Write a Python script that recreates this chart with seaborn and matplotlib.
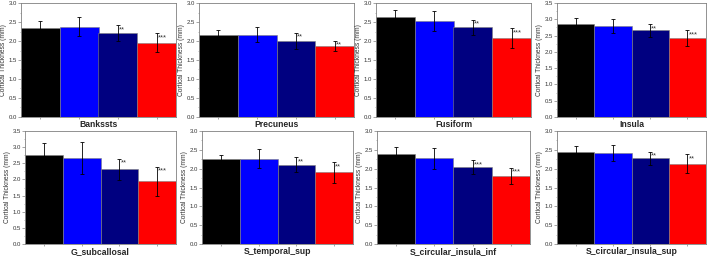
import pandas as pd
import matplotlib.pyplot as plt
import seaborn as sns
from matplotlib.ticker import MultipleLocator

regions = ['Bankssts', 'Precuneus', 'Fusiform', 'Insula',
           'G_subcallosal', 'S_temporal_sup', 'S_circular_insula_inf', 'S_circular_insula_sup']
groups = ['G1', 'G2', 'G3', 'G4']
colores = ['#000000', '#0000ff', '#000080', '#ff0000']

medias = [
    [2.35, 2.37, 2.21, 1.96],
    [2.17, 2.17, 2.01, 1.87],
    [2.63, 2.52, 2.36, 2.07],
    [2.86, 2.79, 2.66, 2.43],
    [2.75, 2.66, 2.31, 1.94],
    [2.26, 2.26, 2.10, 1.90],
    [2.39, 2.27, 2.04, 1.81],
    [2.44, 2.42, 2.27, 2.13],
]
errores = [
    [0.17, 0.25, 0.21, 0.24],
    [0.13, 0.20, 0.21, 0.14],
    [0.18, 0.26, 0.20, 0.26],
    [0.17, 0.21, 0.19, 0.24],
    [0.37, 0.50, 0.33, 0.45],
    [0.09, 0.25, 0.20, 0.28],
    [0.19, 0.27, 0.18, 0.22],
    [0.15, 0.21, 0.18, 0.25],
]
estrellas = [
    ['', '', '**', '***'],
    ['', '', '**', '**'],
    ['', '', '**', '***'],
    ['', '', '**', '***'],
    ['', '', '**', '***'],
    ['', '', '**', '**'],
    ['', '', '***', '***'],
    ['', '', '**', '**'],
]
ylims = [3.0, 3.0, 3.0, 3.5, 3.5, 3.0, 3.0, 3.0]

# posiciones de los paneles en pixeles (izq, arriba, ancho, alto)
cajas = [
    (21, 3, 155, 114), (199, 3, 155, 114), (376, 3, 155, 114), (557, 3, 149, 114),
    (25, 131, 151, 113), (202, 131, 151, 113), (377, 131, 153, 113), (557, 131, 149, 113),
]

W, H = 710, 257
sns.set_style('white')
plt.rcParams['font.family'] = ['Liberation Sans', 'DejaVu Sans']
fig = plt.figure(figsize=(W / 100, H / 100), dpi=100)

gris = '#808080'
for k, reg in enumerate(regions):
    l, t, w, h = cajas[k]
    ax = fig.add_axes([l / W, 1 - (t + h) / H, w / W, h / H])
    df = pd.DataFrame({'grupo': groups, 'valor': medias[k]})
    sns.barplot(data=df, x='grupo', y='valor', hue='grupo', palette=colores, saturation=1,
                width=1.0, edgecolor=gris, linewidth=0.4, legend=False, ax=ax)
    ax.errorbar(range(4), medias[k], yerr=errores[k], fmt='none', ecolor='black',
                elinewidth=0.6, capsize=1.3, capthick=0.6)
    for i in range(4):
        if estrellas[k][i]:
            ax.text(i + 0.03, medias[k][i] + errores[k][i] - 0.03, estrellas[k][i],
                    fontsize=5.5, ha='left', va='top', color='#333333')
    ax.set_xlim(-0.5, 3.5)
    ax.set_ylim(0, ylims[k])
    ax.yaxis.set_major_locator(MultipleLocator(0.5))
    ax.yaxis.set_minor_locator(MultipleLocator(0.25))
    ax.yaxis.set_major_formatter(plt.FormatStrFormatter('%.1f'))
    ax.set_xticks(range(4))
    ax.set_xticklabels([])
    ax.tick_params(axis='both', which='major', direction='out', length=2, width=0.5,
                   color=gris, labelsize=4.3, labelcolor='#333333', pad=1)
    ax.tick_params(axis='x', which='major', length=1.5)
    ax.tick_params(axis='y', which='minor', direction='out', length=1, width=0.4, color=gris, left=True)
    ax.tick_params(left=True, bottom=True)
    for s in ax.spines.values():
        s.set_color(gris)
        s.set_linewidth(0.6)
    ax.set_xlabel(reg, fontsize=6.2, fontweight='bold', labelpad=0)
    ax.set_ylabel('Cortical Thickness (mm)', fontsize=4.8, color='#333333', labelpad=1)

plt.savefig('out.png', dpi=100)
